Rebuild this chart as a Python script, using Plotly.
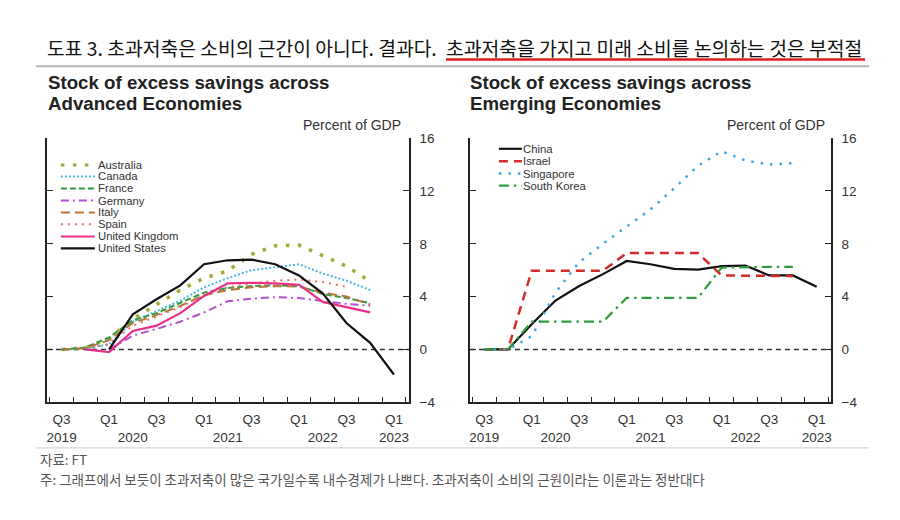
import plotly.graph_objects as go

W, H = 900, 520

# ---------------- data ----------------
quarters = list(range(15))  # Q3 2019 ... Q1 2023
tick_text = ["Q3<br>2019", "", "Q1", " <br>2020", "Q3", "", "Q1", " <br>2021",
             "Q3", "", "Q1", " <br>2022", "Q3", "", "Q1<br>2023"]
y_ticks = [-4, 0, 4, 8, 12, 16]

australia = [0, 0.1, 0.8, 2.3, 3.4, 4.5, 5.4, 5.95, 7.2, 7.85, 7.9, 7.1, 6.3, 5.15, None]
canada = [0, 0.05, 0.4, 2.1, 2.9, 3.7, 4.7, 5.4, 6.0, 6.25, 6.45, 5.75, 5.2, 4.5, None]
france = [0, 0.15, 0.9, 2.2, 2.75, 3.5, 4.3, 4.65, 4.8, 4.85, 4.8, 4.2, 3.9, 3.5, None]
germany = [None, None, 0, 1.05, 1.55, 2.1, 2.8, 3.65, 3.85, 3.95, 3.9, 3.65, 3.45, 3.3, None]
italy = [0, 0.1, 0.7, 2.0, 2.6, 3.3, 4.1, 4.5, 4.7, 4.8, 4.75, 4.3, 4.0, 3.4, None]
spain = [None, 0, 0.4, 1.8, 2.5, 3.2, 4.1, 4.7, 5.0, 5.2, 5.3, 5.1, 4.75, None, None]
uk = [None, 0, -0.2, 1.4, 1.8, 2.75, 4.05, 5.0, 5.05, 5.0, 4.9, 3.6, 3.2, 2.8, None]
us = [None, None, 0, 2.65, 3.8, 4.85, 6.45, 6.75, 6.8, 6.45, 5.6, 4.25, 2.0, 0.5, -1.9]

china = [0, 0, 1.9, 3.7, 4.8, 5.7, 6.7, 6.45, 6.1, 6.05, 6.3, 6.35, 5.6, 5.6, 4.75]
israel = [0, 0, 5.95, 5.95, 5.95, 5.95, 7.3, 7.3, 7.3, 7.3, 5.6, 5.6, 5.55, 5.55, None]
singapore = [0, 0, 1.0, 4.3, 6.6, 8.0, 9.3, 10.6, 12.2, 13.9, 15.0, 14.3, 14.0, 14.1, None]
south_korea = [0, 0, 2.1, 2.1, 2.1, 2.1, 3.9, 3.9, 3.9, 3.9, 6.2, 6.25, 6.25, 6.25, None]

# ---------------- styles ----------------
adv = [
    ("Australia", australia, "#a5a83a", 3.6, "3.5px,8.5px"),
    ("Canada", canada, "#52b2ea", 2.0, "2px,2px"),
    ("France", france, "#2f9a3f", 2.0, "6px,3px"),
    ("Germany", germany, "#b44fd2", 2.0, "8px,4px,2px,4px"),
    ("Italy", italy, "#b9743a", 2.0, "9px,5px"),
    ("Spain", spain, "#e2706a", 2.0, "2px,5px"),
    ("United Kingdom", uk, "#ea2f8a", 2.2, "solid"),
    ("United States", us, "#111111", 2.2, "solid"),
]
emg = [
    ("China", china, "#111111", 2.2, "solid"),
    ("Israel", israel, "#d42b2b", 2.5, "9px,6px"),
    ("Singapore", singapore, "#3ea8e8", 2.5, "2.5px,7px"),
    ("South Korea", south_korea, "#2f9a3f", 2.2, "10px,5px,2.5px,5px"),
]

EN = "Liberation Sans, Arial, sans-serif"
KR = "Noto Sans CJK KR, sans-serif"

def px(x):
    return x / W

def py(y):
    return 1 - y / H

fig = go.Figure()
for name, vals, col, lw, dash in adv:
    fig.add_trace(go.Scatter(x=quarters, y=vals, mode="lines", name=name,
                             line=dict(color=col, width=lw, dash=dash),
                             xaxis="x", yaxis="y", showlegend=False, connectgaps=False))
for name, vals, col, lw, dash in emg:
    fig.add_trace(go.Scatter(x=quarters, y=vals, mode="lines", name=name,
                             line=dict(color=col, width=lw, dash=dash),
                             xaxis="x2", yaxis="y2", showlegend=False, connectgaps=False))

ydom = [py(407), py(135)]

def xaxis(dom, rng, anchor):
    return dict(domain=dom, range=rng, anchor=anchor, tickmode="array",
                tickvals=quarters, ticktext=tick_text, ticks="inside", ticklen=0.1,
                tickcolor="rgba(0,0,0,0)", tickangle=0,
                showline=True, linecolor="#222", linewidth=1.5, mirror=False,
                showgrid=False, zeroline=False,
                tickfont=dict(family=EN, size=13.5, color="#333"),
                minor=dict(tick0=-0.5, dtick=1, ticks="inside", ticklen=6,
                           tickcolor="#222", tickwidth=1.3, showgrid=False),
                ticklabelstandoff=4)

def yaxis(anchor):
    return dict(domain=ydom, range=[-4, 16], anchor=anchor, side="right",
                tickmode="array", tickvals=y_ticks, ticks="inside", ticklen=6,
                tickcolor="#222", tickwidth=1.3, showline=True, linecolor="#222",
                linewidth=1.5, mirror="ticks", showgrid=False, zeroline=False,
                tickfont=dict(family=EN, size=13.5, color="#333"),
                ticklabelstandoff=6)

fig.update_layout(
    width=W, height=H, margin=dict(l=0, r=0, t=0, b=0),
    paper_bgcolor="white", plot_bgcolor="white", showlegend=False,
    xaxis=xaxis([px(46), px(409)], [-0.62, 14.64], "y"),
    yaxis=yaxis("x"),
    xaxis2=xaxis([px(470), px(832)], [-0.6, 14.61], "y2"),
    yaxis2=yaxis("x2"),
)

shapes = []
annotations = []

# zero dashed lines
for xr, yr in (("x domain", "y"), ("x2 domain", "y2")):
    shapes.append(dict(type="line", xref=xr, yref=yr, x0=0, x1=1, y0=0, y1=0,
                       line=dict(color="#333", width=1.4, dash="5px,4px"), layer="below"))

# header
annotations.append(dict(text="도표 3. 초과저축은 소비의 근간이 아니다. 결과다.", x=px(44), y=py(42),
                        xref="paper", yref="paper", xanchor="left", yanchor="middle",
                        showarrow=False, font=dict(family=KR, size=19.3, color="#111")))
annotations.append(dict(text="초과저축을 가지고 미래 소비를 논의하는 것은 부적절", x=px(444), y=py(42),
                        xref="paper", yref="paper", xanchor="left", yanchor="middle",
                        showarrow=False, font=dict(family=KR, size=19.3, color="#111")))
shapes.append(dict(type="line", xref="paper", yref="paper", x0=px(446), x1=px(866),
                   y0=py(54), y1=py(54), line=dict(color="#e01c1c", width=2.5)))
shapes.append(dict(type="line", xref="paper", yref="paper", x0=px(35), x1=px(870),
                   y0=py(61), y1=py(61), line=dict(color="#b5b5b5", width=2)))
shapes.append(dict(type="line", xref="paper", yref="paper", x0=px(35), x1=px(870),
                   y0=py(454), y1=py(454), line=dict(color="#cccccc", width=1)))

# panel titles
for x0, sub in ((45, "Advanced Economies"), (468, "Emerging Economies")):
    annotations.append(dict(text="<b>Stock of excess savings across</b>", x=px(x0), y=py(78),
                            xref="paper", yref="paper", xanchor="left", yanchor="middle",
                            showarrow=False, font=dict(family=EN, size=18.7, color="#222")))
    annotations.append(dict(text="<b>" + sub + "</b>", x=px(x0), y=py(99),
                            xref="paper", yref="paper", xanchor="left", yanchor="middle",
                            showarrow=False, font=dict(family=EN, size=18.7, color="#222")))

# Percent of GDP
for xr in (403, 828):
    annotations.append(dict(text="Percent of GDP", x=px(xr), y=py(122), xref="paper", yref="paper",
                            xanchor="right", yanchor="middle", showarrow=False,
                            font=dict(family=EN, size=14, color="#333")))

# manual legends
def legend(items, x0, x1, xt, ys):
    for (name, vals, col, lw, dash), y in zip(items, ys):
        shapes.append(dict(type="line", xref="paper", yref="paper", x0=px(x0), x1=px(x1),
                           y0=py(y), y1=py(y),
                           line=dict(color=col, width=min(lw, 2.6) if dash != "3.5px,8.5px" else 3.2,
                                     dash=dash)))
        annotations.append(dict(text=name, x=px(xt), y=py(y), xref="paper", yref="paper",
                                xanchor="left", yanchor="middle", showarrow=False,
                                font=dict(family=EN, size=11.3, color="#333")))

legend(adv, 60, 94, 95, [162.7, 174.5, 186.8, 199.3, 211.5, 223.8, 236.3, 248.6])
legend(emg, 499, 522, 521, [146, 158.8, 171.5, 184])

# footer
annotations.append(dict(text="자료: FT", x=px(37), y=py(465), xref="paper", yref="paper",
                        xanchor="left", yanchor="middle", showarrow=False,
                        font=dict(family=KR, size=13.5, color="#555")))
annotations.append(dict(text="주: 그래프에서 보듯이 초과저축이 많은 국가일수록 내수경제가 나쁘다. 초과저축이 소비의 근원이라는 이론과는 정반대다",
                        x=px(37), y=py(486), xref="paper", yref="paper",
                        xanchor="left", yanchor="middle", showarrow=False,
                        font=dict(family=KR, size=13.5, color="#555")))

fig.update_layout(shapes=shapes, annotations=annotations)
fig.write_html("out.html")
